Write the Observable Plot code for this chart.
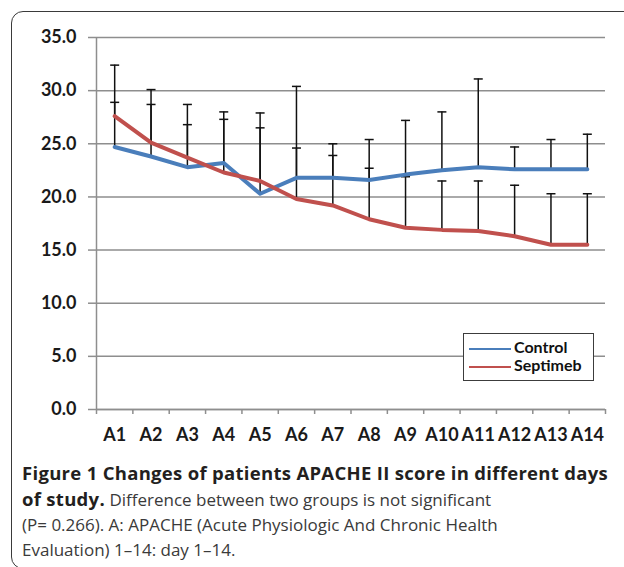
<!DOCTYPE html>
<html><head><meta charset="utf-8">
<script src="https://cdn.jsdelivr.net/npm/d3@7"></script>
<script src="https://cdn.jsdelivr.net/npm/@observablehq/plot@0.6"></script>
<style>
html,body{margin:0;padding:0;background:#fff;}
#fig{position:relative;width:624px;height:567px;overflow:hidden;background:#fff;}
#frame{position:absolute;left:11px;top:11px;width:700px;height:558px;border:1.5px solid #3a3a3a;border-radius:12px;box-sizing:border-box;}
#chart{position:absolute;left:0;top:0;}
#legend{position:absolute;left:463px;top:333px;width:131px;height:48px;border:1.5px solid #3c3c3c;background:#fff;box-sizing:border-box;font-family:Lato,sans-serif;font-weight:bold;font-size:16px;color:#111;}
.lg-item{position:absolute;left:5px;height:18px;line-height:18px;white-space:nowrap;}
.lg-swatch{display:inline-block;width:42px;height:2.5px;vertical-align:middle;margin-right:3px;}
#caption{position:absolute;left:22px;top:460px;font-family:"Open Sans",sans-serif;font-size:17px;line-height:25px;color:#3a3a3a;white-space:nowrap;}
#caption b{color:#231f20;font-size:18.5px;letter-spacing:0.3px;}
</style>
</head><body>
<div id="fig">
  <div id="frame"></div>
  <div id="chart"></div>
  <div id="legend"></div>
  <div id="caption"><b>Figure 1 Changes of patients APACHE II score in different days</b><br><b>of study.</b> Difference between two groups is not significant<br>(P= 0.266). A: APACHE (Acute Physiologic And Chronic Health<br>Evaluation) 1–14: day 1–14.</div>
</div>
<script>
const categories = ["A1","A2","A3","A4","A5","A6","A7","A8","A9","A10","A11","A12","A13","A14"];
const seriesNames = ["Control","Septimeb"];
const seriesColors = ["#4a7ebb","#c0504d"];
const control = [24.7, 23.8, 22.8, 23.2, 20.3, 21.8, 21.8, 21.6, 22.1, 22.5, 22.8, 22.6, 22.6, 22.6];
const septimeb = [27.6, 25.1, 23.7, 22.3, 21.5, 19.8, 19.2, 17.9, 17.1, 16.9, 16.8, 16.3, 15.5, 15.5];
const controlUpper = [32.4, 30.1, 28.7, 28.0, 27.9, 30.4, 25.0, 25.4, 27.2, 28.0, 31.1, 24.7, 25.4, 25.9];
const septimebUpper = [28.9, 28.7, 26.8, 27.3, 26.5, 24.6, 23.9, 22.7, 21.9, 21.5, 21.5, 21.1, 20.3, 20.3];
const yTicks = [0, 5, 10, 15, 20, 25, 30, 35];

const means = [control, septimeb];
const uppers = [controlUpper, septimebUpper];
const rows = seriesNames.flatMap((s, k) => categories.map((c, i) => ({
  i: i + 1, cat: c, series: s, value: means[k][i], upper: uppers[k][i]
})));
const centers = categories.map((c, i) => i + 1);
const boundaries = [0.5, ...centers.map(v => v + 0.5)];

const capSymbol = {draw(ctx, size) { const r = Math.sqrt(size / Math.PI); ctx.moveTo(-r, 0); ctx.lineTo(r, 0); }};
const gray = "#8e8e8e";

const chart = Plot.plot({
  width: 624, height: 455,
  marginLeft: 96, marginRight: 19, marginTop: 37, marginBottom: 46,
  style: {fontFamily: "Lato, sans-serif", fontWeight: "bold", fontSize: "18px", color: "#1a1a1a", background: "transparent"},
  x: {type: "linear", domain: [0.5, categories.length + 0.5], label: null},
  y: {domain: [0, 35], label: null},
  color: {domain: seriesNames, range: seriesColors},
  marks: [
    Plot.gridY(yTicks, {stroke: gray, strokeOpacity: 1, strokeWidth: 1.5}),
    Plot.axisY(yTicks, {tickSize: 8, tickPadding: 12, tickFormat: d3.format(".1f"), stroke: gray, strokeWidth: 1.5}),
    Plot.ruleX([0.5], {stroke: gray, strokeWidth: 1.5}),
    Plot.ruleY([0], {stroke: gray, strokeWidth: 1.5}),
    Plot.axisX(boundaries, {tickSize: 5, tickFormat: () => "", stroke: gray, strokeWidth: 1.5}),
    Plot.axisX(centers, {tickSize: 0, tickPadding: 19, tickFormat: i => categories[i - 1]}),
    Plot.ruleX(rows, {x: "i", y1: "value", y2: "upper", stroke: "#111", strokeWidth: 1.5}),
    Plot.dot(rows, {x: "i", y: "upper", symbol: capSymbol, r: 4.5, stroke: "#111", strokeWidth: 1.5, fill: "none"}),
    Plot.line(rows, {x: "i", y: "value", z: "series", stroke: "series", strokeWidth: 4})
  ]
});
document.getElementById("chart").appendChild(chart);

const legend = document.getElementById("legend");
seriesNames.forEach((s, k) => {
  const item = document.createElement("div");
  item.className = "lg-item";
  item.style.top = (4 + k * 18) + "px";
  item.innerHTML = `<span class="lg-swatch" style="background:${seriesColors[k]}"></span>${s}`;
  legend.appendChild(item);
});
</script>
</body></html>
